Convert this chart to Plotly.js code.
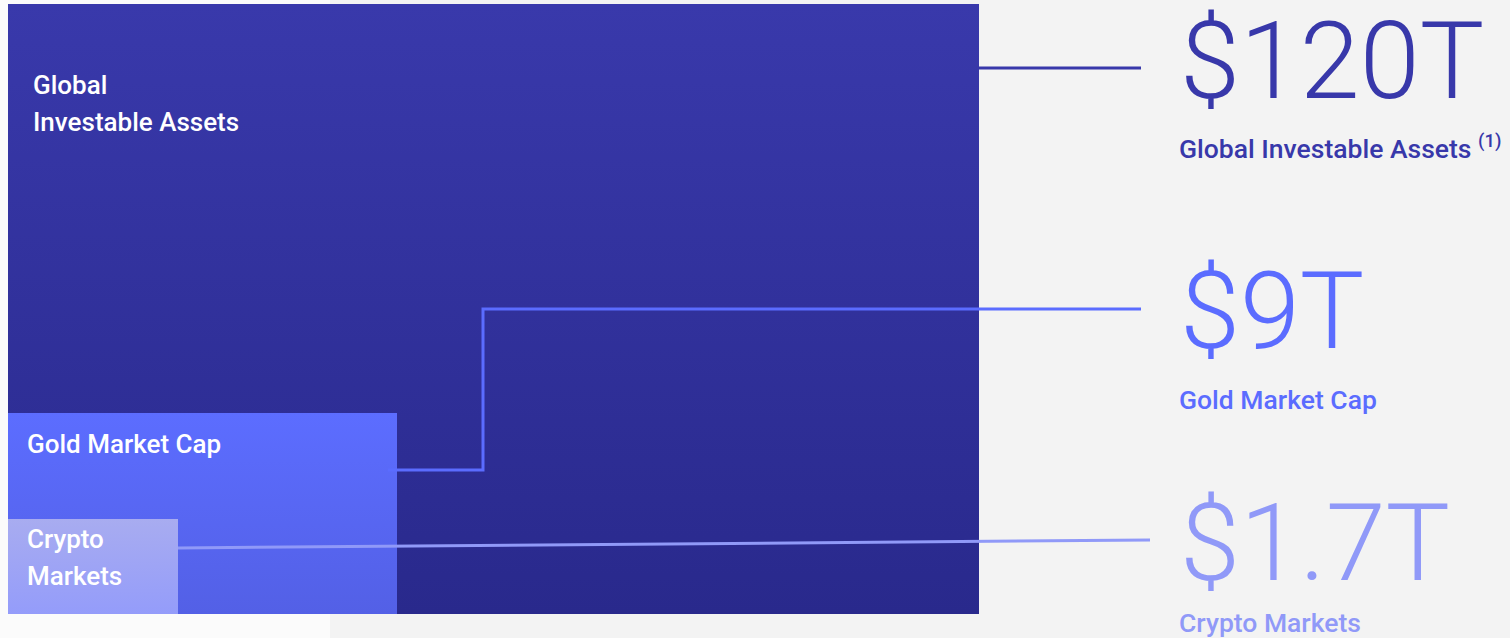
<!DOCTYPE html>
<html>
<head>
<meta charset="utf-8">
<script src="https://cdn.plot.ly/plotly-3.0.1.min.js"></script>
<style>html,body{margin:0;padding:0;background:#f3f3f3;}#chart{width:1510px;height:638px;}</style>
</head>
<body>
<div id="chart"></div>
<script>
// ---- data ----
const categories = ['Global Investable Assets', 'Gold Market Cap', 'Crypto Markets'];
const values = [120, 9, 1.7];               // trillions USD
const valueLabels = ['$120T', '$9T', '$1.7T'];
const insideLabels = [['Global', 'Investable Assets'], ['Gold Market Cap'], ['Crypto', 'Markets']];
const footnotes = [' <sup>(1)</sup>', '', ''];

// ---- layout geometry (pixel-like plot coordinates) ----
const boxes = [
  {x0: 8, x1: 979, y0: 4, y1: 614},
  {x0: 8, x1: 397, y0: 413, y1: 614},
  {x0: 8, x1: 178, y0: 519, y1: 614}
];
const gradients = [
  ['#3939ab', '#29298c'],
  ['#5c6dff', '#5360e6'],
  ['#a8acf0', '#949cfa']
];
const accent = ['#3838aa', '#5b6cff', '#9099f8'];
const connectors = [
  {x: [979, 1141], y: [68, 68]},
  {x: [388, 483, 483, 1141], y: [470, 470, 309, 309]},
  {x: [178, 1150], y: [548, 540]}
];
const valuePos = [{x: 1178, y: 61}, {x: 1178, y: 311}, {x: 1178, y: 543}];
const subPos = [{x: 1177, y: 147}, {x: 1177, y: 399}, {x: 1177, y: 622}];
const insidePos = [{x: 31, y: 85}, {x: 25, y: 444}, {x: 25, y: 539}];
const lineGap = 37;

const traces = [];
categories.forEach((c, i) => {
  const b = boxes[i];
  traces.push({
    type: 'scatter', mode: 'lines', name: c,
    x: [b.x0, b.x1, b.x1, b.x0, b.x0],
    y: [b.y0, b.y0, b.y1, b.y1, b.y0],
    fill: 'toself', line: {width: 0, color: gradients[i][0]},
    fillgradient: {type: 'vertical', start: b.y0, stop: b.y1,
      colorscale: [[0, gradients[i][0]], [1, gradients[i][1]]]},
    hoverinfo: 'text', text: c + ': ' + valueLabels[i], showlegend: false
  });
});
categories.forEach((c, i) => {
  traces.push({
    type: 'scatter', mode: 'lines', x: connectors[i].x, y: connectors[i].y,
    line: {color: accent[i], width: 3}, hoverinfo: 'skip', showlegend: false
  });
});

const annotations = [];
categories.forEach((c, i) => {
  annotations.push({
    x: valuePos[i].x, y: valuePos[i].y, xref: 'x', yref: 'y',
    text: valueLabels[i], showarrow: false, xanchor: 'left', yanchor: 'middle',
    font: {family: 'Roboto', size: 108, weight: 300, color: accent[i]}
  });
  annotations.push({
    x: subPos[i].x, y: subPos[i].y, xref: 'x', yref: 'y',
    text: c + footnotes[i], showarrow: false, xanchor: 'left', yanchor: 'middle',
    font: {family: 'Roboto', size: 26.5, weight: 500, color: accent[i]}
  });
  insideLabels[i].forEach((t, k) => {
    annotations.push({
      x: insidePos[i].x, y: insidePos[i].y + k * lineGap, xref: 'x', yref: 'y',
      text: t, showarrow: false, xanchor: 'left', yanchor: 'middle',
      font: {family: 'Roboto', size: 26, weight: 500, color: '#ffffff'}
    });
  });
});

const layout = {
  width: 1510, height: 638,
  margin: {l: 0, r: 0, t: 0, b: 0},
  paper_bgcolor: '#f3f3f3', plot_bgcolor: 'rgba(0,0,0,0)',
  xaxis: {range: [0, 1510], visible: false, fixedrange: true},
  yaxis: {range: [638, 0], visible: false, fixedrange: true},
  shapes: [
    {type: 'rect', xref: 'x', yref: 'y', x0: 0, x1: 330, y0: 0, y1: 638,
     fillcolor: '#fbfbfb', line: {width: 0}, layer: 'below'}
  ],
  annotations: annotations,
  showlegend: false
};
Plotly.newPlot('chart', traces, layout, {displayModeBar: false, staticPlot: true});
</script>
</body>
</html>
